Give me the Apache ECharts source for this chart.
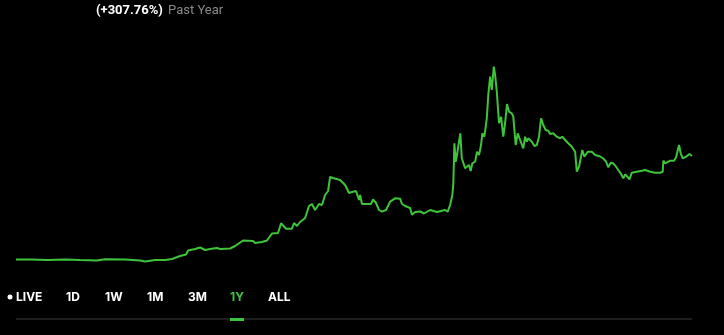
<!DOCTYPE html>
<html>
<head>
<meta charset="utf-8">
<script src="https://cdn.jsdelivr.net/npm/echarts@6/dist/echarts.min.js"></script>
<style>
  html, body { margin: 0; padding: 0; background: #000; }
  #chart { width: 724px; height: 335px; }
</style>
</head>
<body>
<div id="chart"></div>
<script>
// ---- data ----
const headerChange = '(+307.76%)';
const headerPeriod = 'Past Year';
const periodLabels = ['LIVE', '1D', '1W', '1M', '3M', '1Y', 'ALL'];
const activePeriod = '1Y';

// day of the year (0..365)
const days = [
  0, 7.6, 17.3, 26.5, 34.6, 43.7, 48.1, 58.9, 67.0, 69.7, 75.1, 80.5, 84.2, 88.6, 91.8, 92.9,
  96.7, 99.4, 102.1, 104.8, 108.5, 110.2, 115.6, 118.3, 122.6, 128.0, 129.1, 132.8, 135.5, 138.2,
  141.5, 143.1, 145.8, 149.0, 150.1, 151.7, 153.4, 156.1, 158.2, 159.8, 161.5, 163.6, 165.2, 166.9,
  168.5, 169.6, 171.2, 175.0, 177.7, 179.8, 181.4, 183.6, 185.2, 185.8, 186.8, 189.0, 191.7, 192.8,
  194.4, 196.0, 197.6, 199.8, 202.0, 204.7, 207.4, 208.4, 210.1, 212.8, 213.8, 215.5, 218.2, 220.3,
  223.6, 227.3, 229.5, 231.7, 233.1, 234.4, 235.6, 236.1, 236.7, 237.4, 238.1, 239.2, 239.9, 240.7,
  241.5, 242.5, 243.4, 244.6, 245.5, 246.4, 247.9, 248.9, 250.0, 251.1, 251.8, 252.9, 254.2, 255.0,
  256.0, 256.9, 258.0, 258.7, 259.6, 260.8, 261.9, 263.1, 264.1, 265.1, 266.2, 267.7, 268.5, 269.8,
  270.9, 272.2, 273.9, 274.9, 275.8, 276.6, 278.5, 279.9, 281.2, 282.4, 283.5, 284.7, 286.0, 287.4,
  288.4, 290.1, 291.1, 292.0, 293.8, 295.0, 296.5, 298.2, 300.1, 301.9, 302.8, 304.0, 305.8, 306.9,
  308.7, 310.9, 312.7, 313.6, 315.4, 317.1, 318.6, 319.8, 321.1, 322.5, 324.0, 325.2, 326.5, 327.9,
  328.9, 330.1, 331.2, 332.5, 335.2, 337.9, 339.7, 342.4, 345.1, 347.8, 349.2, 349.5, 350.5, 351.4,
  353.2, 355.3, 356.4, 358.0, 358.9, 360.0, 361.8, 363.6, 364.3, 365.0
];

const prices = [
  10.05, 10.05, 9.90, 10.05, 9.90, 9.75, 10.11, 10.05, 9.75, 9.45, 9.90, 9.90, 10.20, 11.10, 11.55, 12.75,
  13.20, 13.65, 12.90, 13.20, 13.50, 13.20, 13.35, 14.10, 15.75, 15.60, 15.00, 15.30, 15.75, 17.85,
  18.00, 20.91, 19.29, 19.29, 21.00, 20.10, 21.30, 22.50, 26.10, 26.70, 24.90, 26.70, 26.40, 29.40,
  30.60, 34.80, 34.50, 33.90, 32.40, 30.00, 30.30, 30.60, 27.90, 29.40, 26.70, 26.70, 26.70, 28.11,
  27.00, 24.90, 24.39, 24.90, 27.39, 28.41, 28.29, 26.70, 26.10, 25.50, 23.49, 24.30, 24.45, 23.85,
  24.90, 24.30, 24.60, 24.90, 24.39, 26.40, 29.40, 32.40, 44.91, 39.39, 41.40, 45.39, 47.91, 40.41,
  39.90, 37.41, 36.90, 38.40, 36.60, 38.91, 39.39, 42.39, 41.40, 44.40, 47.91, 46.89, 52.41, 59.40,
  64.89, 60.90, 67.89, 65.40, 60.39, 50.91, 52.89, 46.89, 51.00, 56.70, 54.39, 53.91, 52.89, 44.40,
  47.91, 45.90, 43.41, 46.89, 45.39, 46.41, 45.39, 44.10, 44.40, 46.89, 52.41, 50.40, 48.90, 48.69,
  47.70, 47.91, 48.39, 46.89, 46.41, 46.89, 45.90, 44.91, 43.89, 42.39, 36.39, 37.89, 42.90, 40.89,
  42.39, 42.39, 41.40, 40.89, 40.95, 40.35, 39.39, 37.71, 39.09, 38.91, 37.89, 36.90, 35.91, 34.41,
  35.61, 34.89, 34.11, 36.09, 36.39, 36.69, 36.90, 36.39, 36.09, 36.09, 36.39, 39.69, 38.91, 39.39,
  39.69, 39.69, 40.71, 44.40, 41.91, 40.41, 40.89, 41.70, 41.40, 41.10
];

// ---- layout / style ----
const GREEN = '#3ec43a';
const buttonX = [16, 66, 105, 147, 188, 230, 268];
const btnY = 297;
const FONT = '"Inter", "Roboto", "Liberation Sans", sans-serif';
const HFONT = '"Roboto", "Liberation Sans", sans-serif';

const seriesData = days.map((d, i) => [d, prices[i]]);

const graphics = [];
graphics.push({
  type: 'text', x: 96, y: 11,
  style: { text: headerChange, fill: '#ffffff', font: 'bold 13px ' + HFONT, verticalAlign: 'middle' }
});
graphics.push({
  type: 'text', x: 168, y: 11,
  style: { text: headerPeriod, fill: '#8a8a8a', font: '13px ' + HFONT, verticalAlign: 'middle' }
});
graphics.push({
  type: 'circle', shape: { cx: 10, cy: btnY, r: 2.5 }, style: { fill: '#ffffff' }
});
periodLabels.forEach((lab, i) => {
  graphics.push({
    type: 'text', x: buttonX[i], y: btnY,
    style: {
      text: lab, fill: lab === activePeriod ? GREEN : '#ffffff',
      font: 'bold 12px ' + FONT, verticalAlign: 'middle', align: 'left'
    }
  });
});
graphics.push({
  type: 'rect', shape: { x: 16, y: 318.5, width: 676, height: 1 }, style: { fill: '#3c3c3c' }
});
const activeIdx = periodLabels.indexOf(activePeriod);
graphics.push({
  type: 'rect', shape: { x: buttonX[activeIdx], y: 318, width: 14, height: 3 }, style: { fill: GREEN }
});

const chart = echarts.init(document.getElementById('chart'), null, { renderer: 'canvas' });
chart.setOption({
  backgroundColor: '#000000',
  animation: false,
  grid: { left: 16, right: 32, top: 43, bottom: 42 },
  xAxis: { type: 'value', min: 0, max: 365, show: false },
  yAxis: { type: 'value', min: 0, max: 75, show: false },
  series: [{
    type: 'line',
    data: seriesData,
    showSymbol: false,
    lineStyle: { color: GREEN, width: 2 },
    itemStyle: { color: GREEN }
  }],
  graphic: graphics
});
</script>
</body>
</html>
